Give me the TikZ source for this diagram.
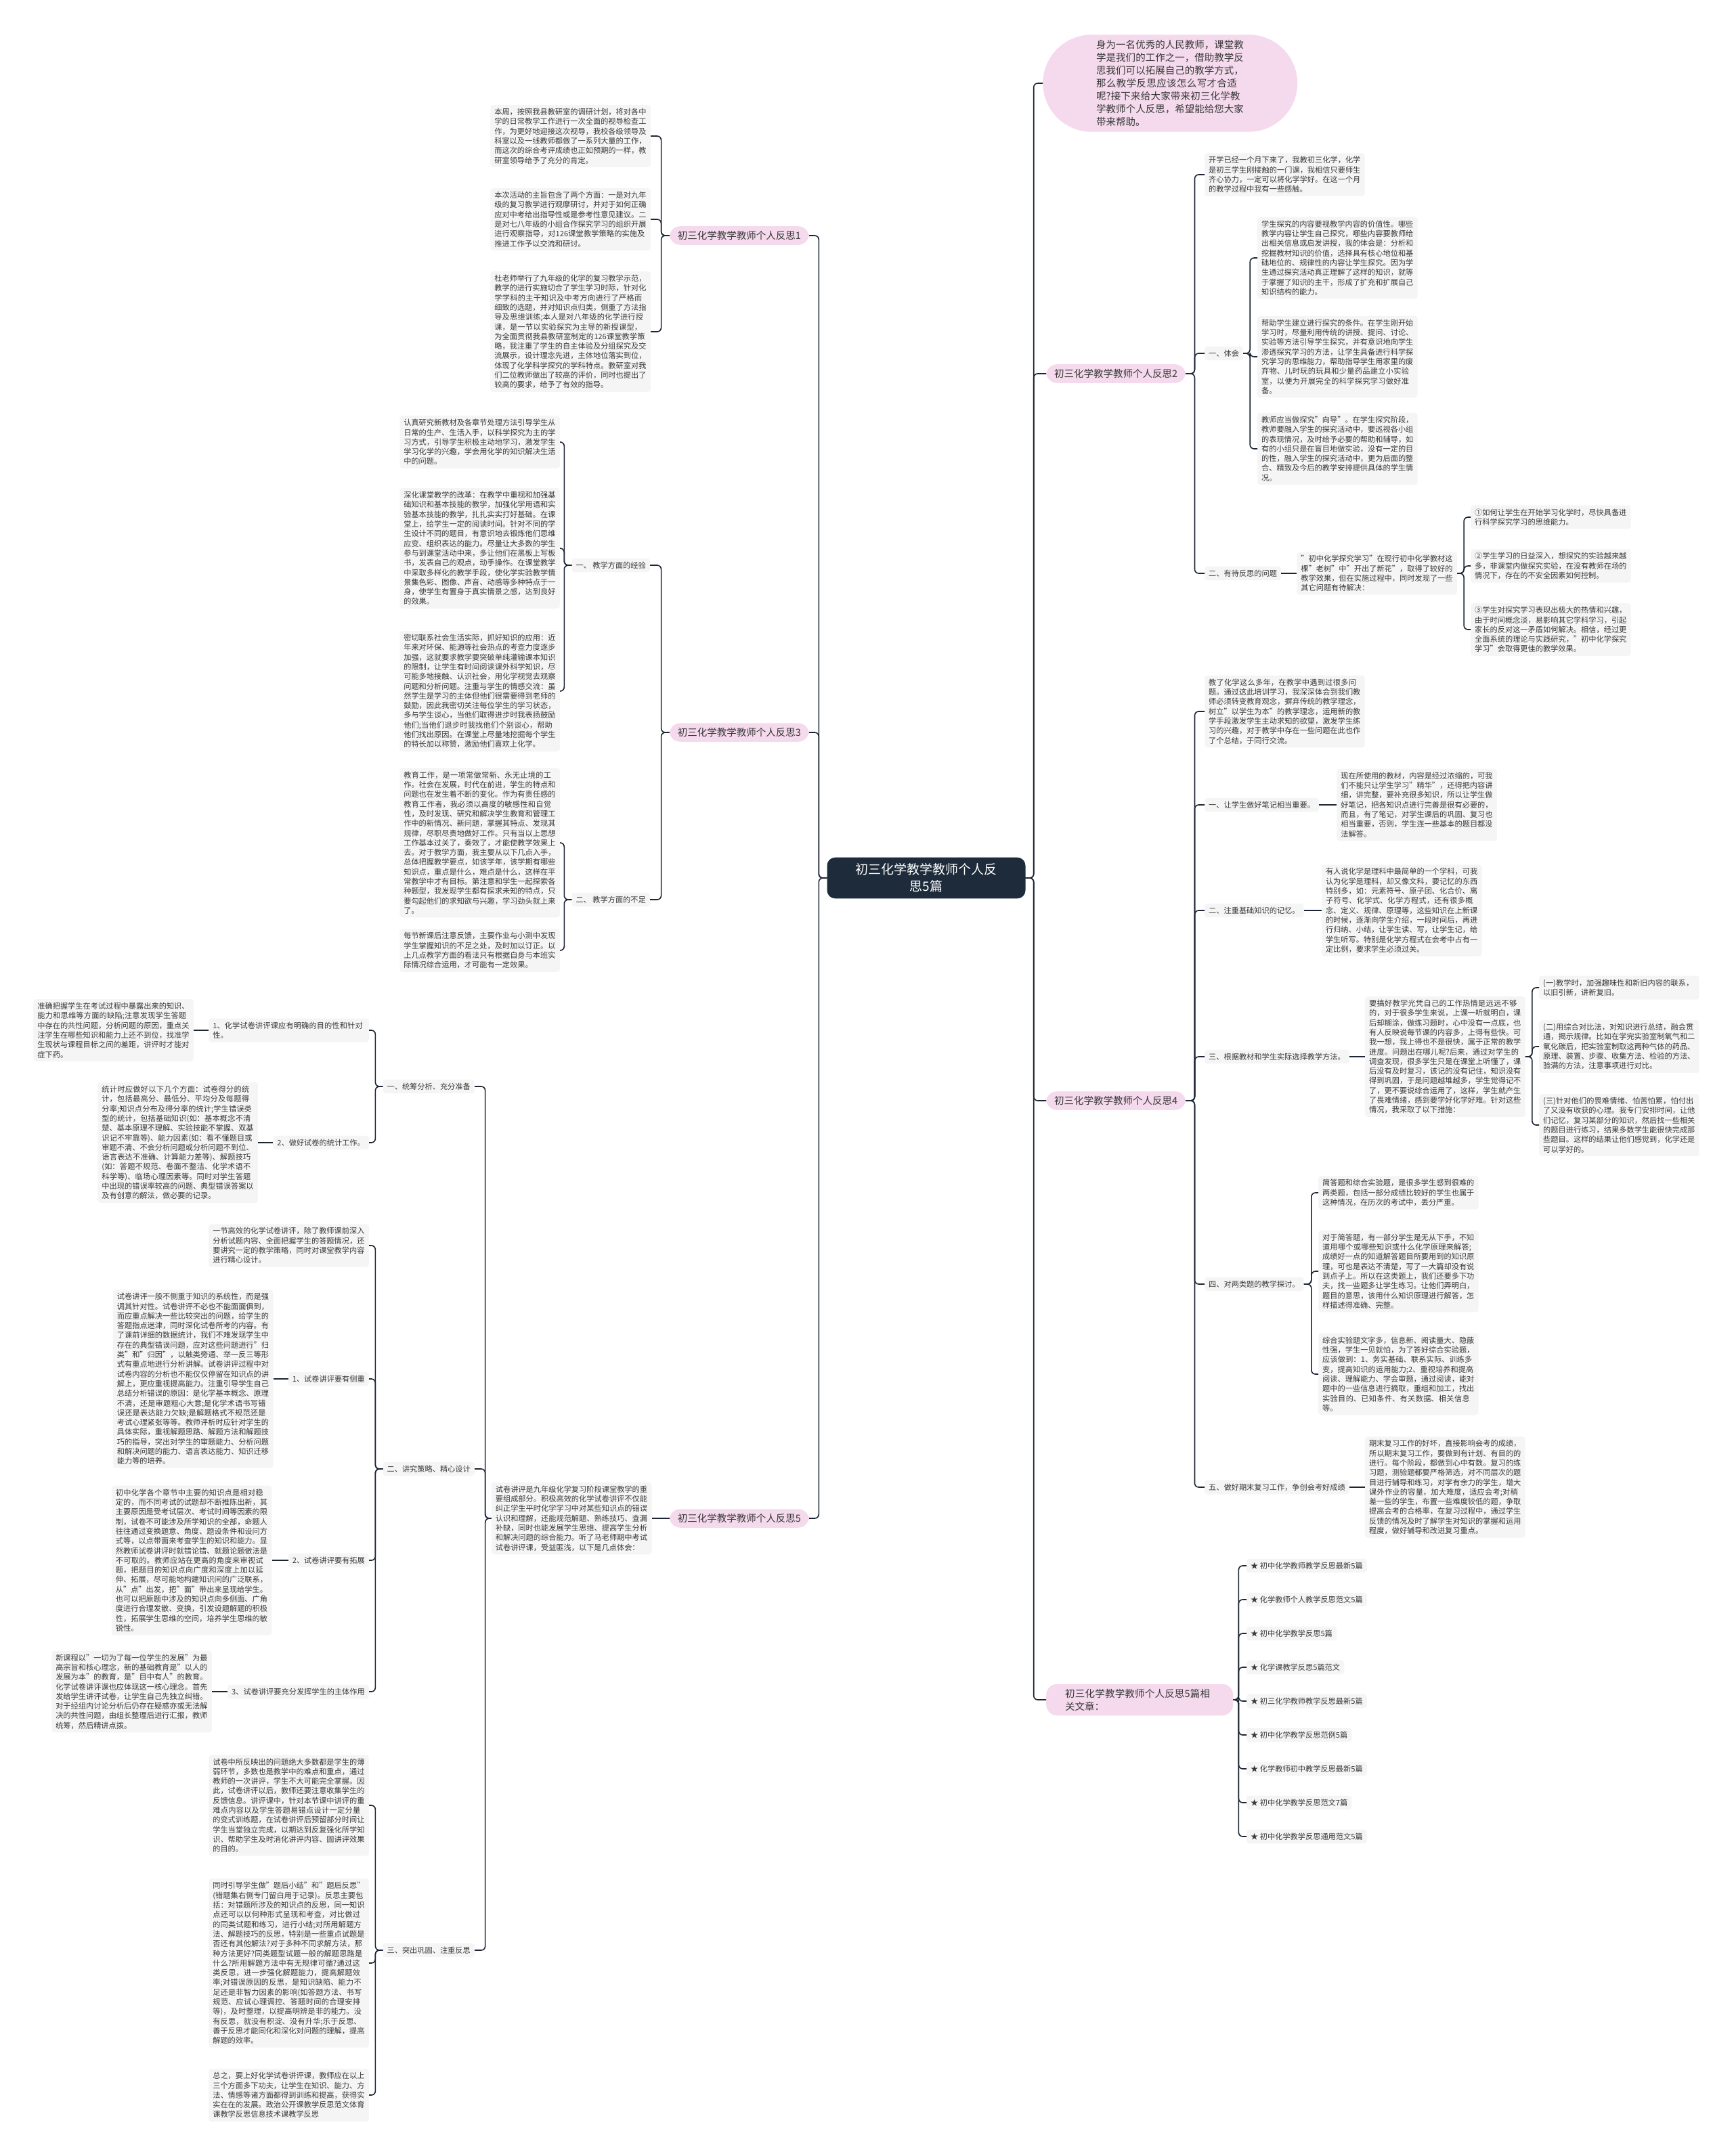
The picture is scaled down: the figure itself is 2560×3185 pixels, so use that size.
\documentclass[tikz,border=0pt]{standalone}
\usepackage{fontspec}
\setmainfont{Noto Sans CJK SC}
\usepackage{xcolor}
\usepackage{tikz}
\usetikzlibrary{positioning}
\XeTeXlinebreaklocale "zh"
\XeTeXlinebreakskip = 0pt plus 1pt
\definecolor{linec}{HTML}{1B2534}
\definecolor{midfill}{HTML}{1E2B3B}
\definecolor{pinkfill}{HTML}{F4DAEC}
\definecolor{leaffill}{HTML}{F5F5F5}
\definecolor{txt}{HTML}{383838}
\newcommand{\leafsize}{\fontsize{11.2}{14.3}\selectfont}
\newcommand{\mainsize}{\fontsize{14.5}{19}\selectfont}
\newcommand{\midsize}{\fontsize{19}{25}\selectfont}

\begin{document}
\begin{tikzpicture}[x=1pt, y=-1pt,
    link/.style={draw=linec, line width=1.6pt, rounded corners=6pt},
    mid/.style={fill=midfill, text=white, rounded corners=12pt, font=\midsize, align=center, inner xsep=42pt, inner ysep=9pt},
    main/.style={fill=pinkfill, text=txt, rounded corners=16pt, font=\mainsize, inner xsep=12pt, inner ysep=7pt},
    sec/.style={fill=leaffill, text=txt, rounded corners=4pt, font=\leafsize, inner xsep=6pt, inner ysep=5pt},
    leaf/.style={sec, text width=224.5pt, align=left}]
    \fill[white] (0,0) rectangle (2560,3185);
    \useasboundingbox (0,0) rectangle (2560,3185);

    % 中心主题
    \node[mid] (root) at (1368,1297) {初三化学教学教师个人反\\思5篇};

    % 右侧分支
    \node[main, text width=218pt, align=left, inner xsep=79pt, inner ysep=8pt, rounded corners=72pt, anchor=west] (intro) at (1540,123)
        {身为一名优秀的人民教师，课堂教学是我们的工作之一，借助教学反思我们可以拓展自己的教学方式，那么教学反思应该怎么写才合适呢?接下来给大家带来初三化学教学教师个人反思，希望能给您大家带来帮助。};
    \node[main, anchor=west] (r2) at (1545,552) {初三化学教学教师个人反思2};
    \node[main, anchor=west] (r4) at (1545,1626) {初三化学教学教师个人反思4};
    \node[main, text width=220pt, align=left, inner xsep=28pt, anchor=west] (rel) at (1545,2511) {初三化学教学教师个人反思5篇相关文章：};

    % 左侧分支
    \node[main, anchor=east] (r1) at (1195,348) {初三化学教学教师个人反思1};
    \node[main, anchor=east] (r3) at (1195,1082) {初三化学教学教师个人反思3};
    \node[main, anchor=east] (r5) at (1195,2243) {初三化学教学教师个人反思5};

    \foreach \c in {intro,r2,r4,rel}
        \draw[link] (root.east) -- ++(12,0) |- (\c.west);
    \foreach \c in {r1,r3,r5}
        \draw[link] (root.west) -- ++(-12,0) |- (\c.east);

    % 反思2
    \node[leaf, anchor=west] (r2a) at (1779,258) {开学已经一个月下来了，我教初三化学，化学是初三学生刚接触的一门课，我相信只要师生齐心协力，一定可以将化学学好。在这一个月的教学过程中我有一些感触。};
    \node[sec, anchor=west] (r2s1) at (1779,522) {一、体会};
    \node[sec, anchor=west] (r2s2) at (1779,847) {二、有待反思的问题};
    \node[leaf, anchor=west] (r2s1a) at (1857,381) {学生探究的内容要视教学内容的价值性。哪些教学内容让学生自己探究，哪些内容要教师给出相关信息或启发讲授，我的体会是：分析和挖掘教材知识的价值，选择具有核心地位和基础地位的、规律性的内容让学生探究。因为学生通过探究活动真正理解了这样的知识，就等于掌握了知识的主干，形成了扩充和扩展自己知识结构的能力。};
    \node[leaf, anchor=west] (r2s1b) at (1857,527) {帮助学生建立进行探究的条件。在学生刚开始学习时，尽量利用传统的讲授、提问、讨论、实验等方法引导学生探究，并有意识地向学生渗透探究学习的方法，让学生具备进行科学探究学习的思维能力，帮助指导学生用家里的废弃物、儿时玩的玩具和少量药品建立小实验室，以便为开展完全的科学探究学习做好准备。};
    \node[leaf, anchor=west] (r2s1c) at (1857,663) {教师应当做探究"向导"。在学生探究阶段，教师要融入学生的探究活动中，要巡视各小组的表现情况，及时给予必要的帮助和辅导，如有的小组只是在盲目地做实验，没有一定的目的性，融入学生的探究活动中，更为后面的整合、精致及今后的教学安排提供具体的学生情况。};
    \node[leaf, right=23pt of r2s2] (r2s2a) {"初中化学探究学习"在现行初中化学教材这棵"老树"中"开出了新花"，取得了较好的教学效果，但在实施过程中，同时发现了一些其它问题有待解决：};
    \node[leaf, anchor=west] (r2p1) at (2172,764) {①如何让学生在开始学习化学时，尽快具备进行科学探究学习的思维能力。};
    \node[leaf, anchor=west] (r2p2) at (2172,836) {②学生学习的日益深入，想探究的实验越来越多，非课堂内做探究实验，在没有教师在场的情况下，存在的不安全因素如何控制。};
    \node[leaf, anchor=west] (r2p3) at (2172,930) {③学生对探究学习表现出极大的热情和兴趣，由于时间概念淡，易影响其它学科学习，引起家长的反对这一矛盾如何解决。相信，经过更全面系统的理论与实践研究，"初中化学探究学习"会取得更佳的教学效果。};

    \foreach \c in {r2a,r2s1,r2s2}
        \draw[link] (r2.east) -- ++(13,0) |- (\c.west);
    \foreach \c in {r2s1a,r2s1b,r2s1c}
        \draw[link] (r2s1.east) -- ++(10,0) |- (\c.west);
    \draw[link] (r2s2.east) -- (r2s2a.west);
    \foreach \c in {r2p1,r2p2,r2p3}
        \draw[link] (r2s2a.east) -- ++(10,0) |- (\c.west);

    % 反思4
    \node[leaf, anchor=west] (r4a) at (1779,1051) {教了化学这么多年，在教学中遇到过很多问题。通过这此培训学习，我深深体会到我们教师必须转变教育观念，摒弃传统的教学理念，树立"以学生为本"的教学理念，运用新的教学手段激发学生主动求知的欲望，激发学生练习的兴趣，对于教学中存在一些问题在此也作了个总结，于同行交流。};
    \node[sec, anchor=west] (r4s1) at (1779,1189) {一、让学生做好笔记相当重要。};
    \node[sec, anchor=west] (r4s2) at (1779,1345) {二、注重基础知识的记忆。};
    \node[sec, anchor=west] (r4s3) at (1779,1561) {三、根据教材和学生实际选择教学方法。};
    \node[sec, anchor=west] (r4s4) at (1779,1897) {四、对两类题的教学探讨。};
    \node[sec, anchor=west] (r4s5) at (1779,2197) {五、做好期末复习工作，争创会考好成绩};
    \node[leaf, right=26pt of r4s1] (r4s1a) {现在所使用的教材，内容是经过浓缩的，可我们不能只让学生学习"精华"，还得把内容讲细，讲完整，要补充很多知识，所以让学生做好笔记，把各知识点进行完善是很有必要的，而且，有了笔记，对学生课后的巩固、复习也相当重要，否则，学生连一些基本的题目都没法解答。};
    \node[leaf, right=26pt of r4s2] (r4s2a) {有人说化学是理科中最简单的一个学科，可我认为化学是理科，却又像文科，要记忆的东西特别多，如：元素符号、原子团、化合价、离子符号、化学式、化学方程式，还有很多概念、定义、规律、原理等，这些知识在上新课的时候，逐渐向学生介绍，一段时间后，再进行归纳、小结，让学生读、写，让学生记，给学生听写。特别是化学方程式在会考中占有一定比例，要求学生必须过关。};
    \node[leaf, right=23pt of r4s3] (r4s3a) {要搞好教学光凭自己的工作热情是远远不够的，对于很多学生来说，上课一听就明白，课后却糊涂，做练习题时，心中没有一点底，也有人反映说每节课的内容多，上得有些快。可我一想，我上得也不是很快，属于正常的教学进度。问题出在哪儿呢?后来，通过对学生的调查发现，很多学生只是在课堂上听懂了，课后没有及时复习，该记的没有记住，知识没有得到巩固，于是问题越堆越多，学生觉得记不了，更不要说综合运用了，这样，学生就产生了畏难情绪，感到要学好化学好难。针对这些情况，我采取了以下措施：};
    \node[leaf, anchor=west] (r4m1) at (2273,1459) {(一)教学时，加强趣味性和新旧内容的联系，以旧引新，讲新复旧。};
    \node[leaf, anchor=west] (r4m2) at (2273,1546) {(二)用综合对比法，对知识进行总结，融会贯通，揭示规律。比如在学完实验室制氧气和二氧化碳后，把实验室制取这两种气体的药品、原理、装置、步骤、收集方法、检验的方法、验满的方法，注意事项进行对比。};
    \node[leaf, anchor=west] (r4m3) at (2273,1662) {(三)针对他们的畏难情绪、怕苦怕累，怕付出了又没有收获的心理。我专门安排时间，让他们记忆，复习某部分的知识，然后找一些相关的题目进行练习，结果多数学生能很快完成那些题目。这样的结果让他们感觉到，化学还是可以学好的。};
    \node[leaf, anchor=west] (r4s4a) at (1947,1762) {简答题和综合实验题，是很多学生感到很难的两类题，包括一部分成绩比较好的学生也属于这种情况，在历次的考试中，丢分严重。};
    \node[leaf, anchor=west] (r4s4b) at (1947,1878) {对于简答题，有一部分学生是无从下手，不知道用哪个或哪些知识或什么化学原理来解答;成绩好一点的知道解答题目所要用到的知识原理，可也是表达不清楚，写了一大篇却没有说到点子上。所以在这类题上，我们还要多下功夫，找一些题多让学生练习。让他们弄明白，题目的意思，该用什么知识原理进行解答，怎样描述得准确、完整。};
    \node[leaf, anchor=west] (r4s4c) at (1947,2030) {综合实验题文字多，信息新、阅读量大、隐蔽性强，学生一见就怕，为了答好综合实验题，应该做到：1、务实基础、联系实际、训练多变，提高知识的运用能力;2、重视培养和提高阅读、理解能力、学会审题，通过阅读，能对题中的一些信息进行摘取，重组和加工，找出实验目的、已知条件、有关数据、相关信息等。};
    \node[leaf, right=23pt of r4s5] (r4s5a) {期末复习工作的好坏，直接影响会考的成绩，所以期末复习工作，要做到有计划、有目的的进行。每个阶段，都做到心中有数。复习的练习题，测验题都要严格筛选，对不同层次的题目进行辅导和练习，对学有余力的学生，增大课外作业的容量，加大难度，适应会考;对稍差一些的学生，布置一些难度较低的题，争取提高会考的合格率，在复习过程中，通过学生反馈的情况及时了解学生对知识的掌握和运用程度，做好辅导和改进复习重点。};

    \foreach \c in {r4a,r4s1,r4s2,r4s3,r4s4,r4s5}
        \draw[link] (r4.east) -- ++(13,0) |- (\c.west);
    \foreach \s in {r4s1,r4s2,r4s3,r4s5}
        \draw[link] (\s.east) -- (\s a.west);
    \foreach \c in {r4m1,r4m2,r4m3}
        \draw[link] (r4s3a.east) -- ++(10,0) |- (\c.west);
    \foreach \c in {r4s4a,r4s4b,r4s4c}
        \draw[link] (r4s4.east) -- ++(11,0) |- (\c.west);

    % 相关文章
    \foreach \t [count=\i from 0] in {初中化学教师教学反思最新5篇, 化学教师个人教学反思范文5篇, 初中化学教学反思5篇, 化学课教学反思5篇范文, 初三化学教师教学反思最新5篇, 初中化学教学反思范例5篇, 化学教师初中教学反思最新5篇, 初中化学教学反思范文7篇, 初中化学教学反思通用范文5篇}
        \node[sec, anchor=west] (rel\i) at (1841,{2313+50*\i}) {★ \t};
    \foreach \i in {0,...,8}
        \draw[link] (rel.east) -- ++(8,0) |- (rel\i.west);

    % 反思1
    \node[leaf, anchor=east] (r1a) at (961,201) {本周，按照我县教研室的调研计划，将对各中学的日常教学工作进行一次全面的视导检查工作，为更好地迎接这次视导，我校各级领导及科室以及一线教师都做了一系列大量的工作，而这次的综合考评成绩也正如预期的一样，教研室领导给予了充分的肯定。};
    \node[leaf, anchor=east] (r1b) at (961,324) {本次活动的主旨包含了两个方面：一是对九年级的复习教学进行观摩研讨，并对于如何正确应对中考给出指导性或是参考性意见建议。二是对七八年级的小组合作探究学习的组织开展进行观察指导，对126课堂教学策略的实施及推进工作予以交流和研讨。};
    \node[leaf, anchor=east] (r1c) at (961,490) {杜老师举行了九年级的化学的复习教学示范，教学的进行实施切合了学生学习时际，针对化学学科的主干知识及中考方向进行了严格而细致的选题，并对知识点归类，侧重了方法指导及思维训练;本人是对八年级的化学进行授课，是一节以实验探究为主导的新授课型，为全面贯彻我县教研室制定的126课堂教学策略，我注重了学生的自主体验及分组探究及交流展示，设计理念先进，主体地位落实到位，体现了化学科学探究的学科特点。教研室对我们二位教师做出了较高的评价，同时也提出了较高的要求，给予了有效的指导。};
    \foreach \c in {r1a,r1b,r1c}
        \draw[link] (r1.west) -- ++(-12,0) |- (\c.east);

    % 反思3
    \node[sec, anchor=east] (r3s1) at (960,835) {一、 教学方面的经验};
    \node[sec, anchor=east] (r3s2) at (960,1329) {二、 教学方面的不足};
    \node[leaf, anchor=east] (r3a) at (827,653) {认真研究新教材及各章节处理方法引导学生从日常的生产、生活入手，以科学探究为主的学习方式，引导学生积极主动地学习，激发学生学习化学的兴趣，学会用化学的知识解决生活中的问题。};
    \node[leaf, anchor=east] (r3b) at (827,810) {深化课堂教学的改革：在教学中重视和加强基础知识和基本技能的教学，加强化学用语和实验基本技能的教学，扎扎实实打好基础。在课堂上，给学生一定的阅读时间。针对不同的学生设计不同的题目，有意识地去锻炼他们思维应变、组织表达的能力。尽量让大多数的学生参与到课堂活动中来，多让他们在黑板上写板书，发表自己的观点，动手操作。在课堂教学中采取多样化的教学手段，使化学实验教学情景集色彩、图像、声音、动感等多种特点于一身，使学生有置身于真实情景之感，达到良好的效果。};
    \node[leaf, anchor=east] (r3c) at (827,1021) {密切联系社会生活实际，抓好知识的应用：近年来对环保、能源等社会热点的考查力度逐步加强，这就要求教学要突破单纯灌输课本知识的限制，让学生有时间阅读课外科学知识，尽可能多地接触、认识社会，用化学视觉去观察问题和分析问题。注重与学生的情感交流：虽然学生是学习的主体但他们很需要得到老师的鼓励，因此我密切关注每位学生的学习状态，多与学生谈心，当他们取得进步时我表扬鼓励他们;当他们退步时我找他们个别谈心，帮助他们找出原因。在课堂上尽量地挖掘每个学生的特长加以称赞，激励他们喜欢上化学。};
    \node[leaf, anchor=east] (r3d) at (827,1245) {教育工作，是一项常做常新、永无止境的工作。社会在发展，时代在前进，学生的特点和问题也在发生着不断的变化。作为有责任感的教育工作者，我必须以高度的敏感性和自觉性，及时发现、研究和解决学生教育和管理工作中的新情况、新问题，掌握其特点、发现其规律，尽职尽责地做好工作。只有当以上思想工作基本过关了，奏效了，才能使教学效果上去。对于教学方面，我主要从以下几点入手，总体把握教学要点，如该学年，该学期有哪些知识点，重点是什么，难点是什么，这样在平常教学中才有目标。第注意和学生一起探索各种题型，我发现学生都有探求未知的特点，只要勾起他们的求知欲与兴趣，学习劲头就上来了。};
    \node[leaf, anchor=east] (r3e) at (827,1404) {每节新课后注意反馈，主要作业与小测中发现学生掌握知识的不足之处，及时加以订正。以上几点教学方面的看法只有根据自身与本班实际情况综合运用，才可能有一定效果。};
    \foreach \c in {r3s1,r3s2}
        \draw[link] (r3.west) -- ++(-12,0) |- (\c.east);
    \foreach \c in {r3a,r3b,r3c}
        \draw[link] (r3s1.west) -- ++(-11,0) |- (\c.east);
    \foreach \c in {r3d,r3e}
        \draw[link] (r3s2.west) -- ++(-11,0) |- (\c.east);

    % 反思5
    \node[leaf, left=26pt of r5] (r5a) {试卷讲评是九年级化学复习阶段课堂教学的重要组成部分。积极高效的化学试卷讲评不仅能纠正学生平时化学学习中对某些知识点的错误认识和理解，还能规范解题、熟练技巧、查漏补缺，同时也能发展学生思维、提高学生分析和解决问题的综合能力。听了马老师期中考试试卷讲评课，受益匪浅，以下是几点体会：};
    \node[sec, anchor=east] (r5s1) at (701,1605) {一、统筹分析、充分准备};
    \node[sec, anchor=east] (r5s2) at (701,2170) {二、讲究策略、精心设计};
    \node[sec, anchor=east] (r5s3) at (701,2881) {三、突出巩固、注重反思};
    \node[leaf, anchor=east] (r5s1p1) at (545,1522) {1、化学试卷讲评课应有明确的目的性和针对性。};
    \node[leaf, left=22pt of r5s1p1] (r5s1p1a) {准确把握学生在考试过程中暴露出来的知识、能力和思维等方面的缺陷;注意发现学生答题中存在的共性问题，分析问题的原因，重点关注学生在哪些知识和能力上还不到位，找准学生现状与课程目标之间的差距，讲评时才能对症下药。};
    \node[sec, anchor=east] (r5s1p2) at (545,1688) {2、做好试卷的统计工作。};
    \node[leaf, left=22pt of r5s1p2] (r5s1p2a) {统计时应做好以下几个方面：试卷得分的统计，包括最高分、最低分、平均分及每题得分率;知识点分布及得分率的统计;学生错误类型的统计，包括基础知识(如：基本概念不清楚、基本原理不理解、实验技能不掌握、双基识记不牢靠等)、能力因素(如：看不懂题目或审题不清、不会分析问题或分析问题不到位、语言表达不准确、计算能力差等)、解题技巧(如：答题不规范、卷面不整洁、化学术语不科学等)、临场心理因素等。同时对学生答题中出现的错误率较高的问题、典型错误答案以及有创意的解法，做必要的记录。};
    \node[leaf, anchor=east] (r5s2a) at (545,1840) {一节高效的化学试卷讲评，除了教师课前深入分析试题内容、全面把握学生的答题情况，还要讲究一定的教学策略，同时对课堂教学内容进行精心设计。};
    \node[sec, anchor=east] (r5s2p1) at (545,2037) {1、试卷讲评要有侧重};
    \node[leaf, left=22pt of r5s2p1] (r5s2p1a) {试卷讲评一般不侧重于知识的系统性，而是强调其针对性。试卷讲评不必也不能面面俱到，而应重点解决一些比较突出的问题，给学生的答题指点迷津，同时深化试卷所考的内容。有了课前详细的数据统计，我们不难发现学生中存在的典型错误问题，应对这些问题进行"归类"和"归因"，以触类旁通、举一反三等形式有重点地进行分析讲解。试卷讲评过程中对试卷内容的分析也不能仅仅停留在知识点的讲解上，更应重视提高能力。注重引导学生自己总结分析错误的原因：是化学基本概念、原理不清，还是审题粗心大意;是化学术语书写错误还是表达能力欠缺;是解题格式不规范还是考试心理紧张等等。教师评析时应针对学生的具体实际，重视解题思路、解题方法和解题技巧的指导，突出对学生的审题能力、分析问题和解决问题的能力、语言表达能力、知识迁移能力等的培养。};
    \node[sec, anchor=east] (r5s2p2) at (545,2305) {2、试卷讲评要有拓展};
    \node[leaf, left=24pt of r5s2p2] (r5s2p2a) {初中化学各个章节中主要的知识点是相对稳定的，而不同考试的试题却不断推陈出新，其主要原因是受考试层次、考试时间等因素的限制，试卷不可能涉及所学知识的全部，命题人往往通过变换题意、角度、题设条件和设问方式等，以点带面来考查学生的知识和能力。显然教师试卷讲评时就错论错、就题论题做法是不可取的。教师应站在更高的角度来审视试题，把题目的知识点向广度和深度上加以延伸、拓展，尽可能地构建知识间的广泛联系，从"点"出发，把"面"带出来呈现给学生。也可以把原题中涉及的知识点向多侧面、广角度进行合理发散、变换，引发设题解题的积极性，拓展学生思维的空间，培养学生思维的敏锐性。};
    \node[sec, anchor=east] (r5s2p3) at (545,2499) {3、试卷讲评要充分发挥学生的主体作用};
    \node[leaf, left=23pt of r5s2p3] (r5s2p3a) {新课程以"一切为了每一位学生的发展"为最高宗旨和核心理念，新的基础教育是"以人的发展为本"的教育，是"目中有人"的教育。化学试卷讲评课也应体现这一核心理念。首先发给学生讲评试卷，让学生自己先独立纠错。对于经组内讨论分析后仍存在疑惑亦或无法解决的共性问题，由组长整理后进行汇报，教师统筹，然后精讲点拨。};
    \node[leaf, anchor=east] (r5s3a) at (545,2667) {试卷中所反映出的问题绝大多数都是学生的薄弱环节，多数也是教学中的难点和重点，通过教师的一次讲评，学生不大可能完全掌握。因此，试卷讲评以后，教师还要注意收集学生的反馈信息。讲评课中，针对本节课中讲评的重难点内容以及学生答题易错点设计一定分量的变式训练题，在试卷讲评后预留部分时间让学生当堂独立完成，以期达到反复强化所学知识、帮助学生及时消化讲评内容、固讲评效果的目的。};
    \node[leaf, anchor=east] (r5s3b) at (545,2900) {同时引导学生做"题后小结"和"题后反思"(错题集右侧专门留白用于记录)。反思主要包括：对错题所涉及的知识点的反思，同一知识点还可以以何种形式呈现和考查，对比做过的同类试题和练习，进行小结;对所用解题方法、解题技巧的反思，特别是一些重点试题是否还有其他解法?对于多种不同求解方法，那种方法更好?同类题型试题一般的解题思路是什么?所用解题方法中有无规律可循?通过这类反思，进一步强化解题能力，提高解题效率;对错误原因的反思，是知识缺陷、能力不足还是非智力因素的影响(如答题方法、书写规范、应试心理调控、答题时间的合理安排等)，及时整理，以提高明辨是非的能力。没有反思，就没有积淀、没有升华;乐于反思、善于反思才能同化和深化对问题的理解，提高解题的效率。};
    \node[leaf, anchor=east] (r5s3c) at (545,3095) {总之，要上好化学试卷讲评课，教师应在以上三个方面多下功夫，让学生在知识、能力、方法、情感等诸方面都得到训练和提高，获得实实在在的发展。政治公开课教学反思范文体育课教学反思信息技术课教学反思};

    \draw[link] (r5.west) -- (r5a.east);
    \foreach \c in {r5s1,r5s2,r5s3}
        \draw[link] (r5a.west) -- ++(-9,0) |- (\c.east);
    \foreach \c in {r5s1p1,r5s1p2}
        \draw[link] (r5s1.west) -- ++(-11,0) |- (\c.east);
    \foreach \c in {r5s2a,r5s2p1,r5s2p2,r5s2p3}
        \draw[link] (r5s2.west) -- ++(-11,0) |- (\c.east);
    \foreach \c in {r5s3a,r5s3b,r5s3c}
        \draw[link] (r5s3.west) -- ++(-11,0) |- (\c.east);
    \foreach \s in {r5s1p1,r5s1p2,r5s2p1,r5s2p2,r5s2p3}
        \draw[link] (\s.west) -- (\s a.east);
\end{tikzpicture}
\end{document}
